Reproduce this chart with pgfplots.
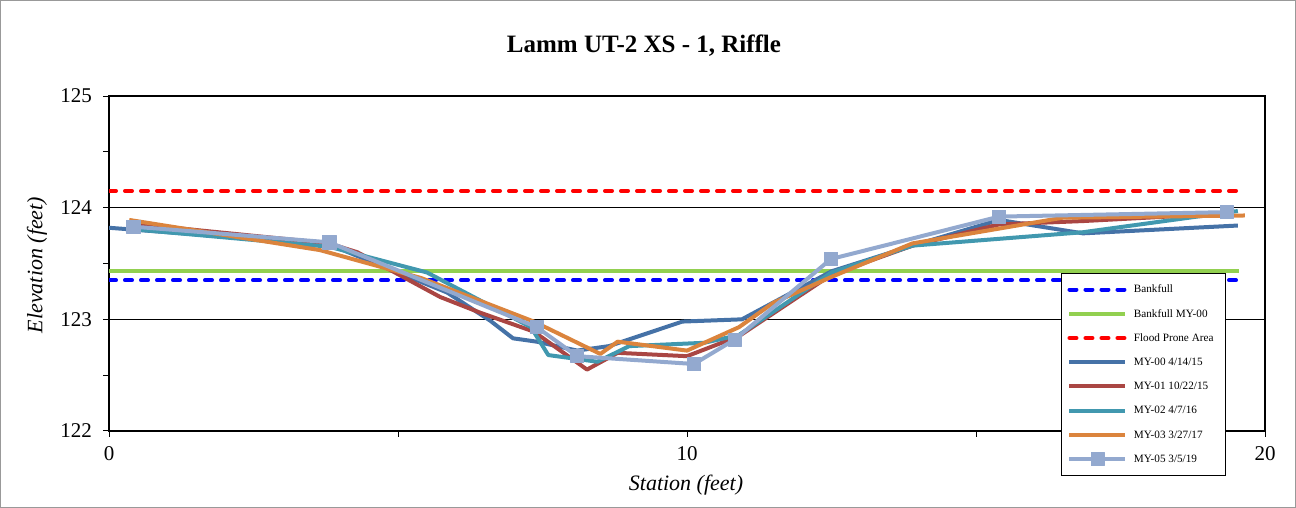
\documentclass[border=0pt]{standalone}
\usepackage{pgfplots}
\pgfplotsset{compat=1.18}
\usepackage{fontspec}
\setmainfont{Liberation Serif}

\definecolor{myzero}{HTML}{4572A7}
\definecolor{myone}{HTML}{AA4643}
\definecolor{mytwo}{HTML}{4198AF}
\definecolor{mythree}{HTML}{DB843D}
\definecolor{myfive}{HTML}{93A9CF}
\definecolor{bfgreen}{HTML}{92D050}

\begin{document}
\begin{tikzpicture}
\useasboundingbox (0,0) rectangle (648pt,254pt);
\draw[gray!80, line width=0.6pt] (0.3pt,0.3pt) rectangle (647.7pt,253.7pt);

% title and axis labels
\node[font=\fontsize{12.5}{14}\selectfont\bfseries] at (322pt,231pt) {Lamm UT-2 XS - 1, Riffle};
\node[font=\fontsize{11}{13}\selectfont\itshape, rotate=90] at (18.5pt,121.5pt) {Elevation (feet)};
\node[font=\fontsize{11}{13}\selectfont\itshape] at (343pt,11.5pt) {Station (feet)};

\begin{axis}[
    at={(54.5pt,38.5pt)}, anchor=south west,
    scale only axis,
    width=578pt, height=167.5pt,
    xmin=0, xmax=20, ymin=122, ymax=125,
    xtick={0,10,20}, ytick={122,123,124,125},
    minor x tick num=1, minor y tick num=1,
    tick pos=left, tick align=outside,
    major tick length=3pt, minor tick length=3pt,
    every tick/.style={black, line width=0.5pt},
    axis line style={line width=1pt},
    ymajorgrids,
    grid style={black, line width=0.5pt},
    ticklabel style={font=\fontsize{10.5}{12}\selectfont},
    /pgf/number format/assume math mode=true,
    yticklabel style={xshift=-2pt},
    xticklabel style={yshift=-1pt},
    legend cell align=left,
    legend style={
        at={(0.8235,0.4716)}, anchor=north west,
        draw=black, line width=0.5pt, fill=white,
        font=\fontsize{5.6}{6.5}\selectfont,
        nodes={text height=4.5pt, text depth=1.2pt, inner sep=3.2pt},
        /tikz/every even column/.append style={column sep=0pt},
    },
    legend image code/.code={
        \draw[mark repeat=2, mark phase=2, #1]
            plot coordinates {(0pt,0pt) (14pt,0pt) (28pt,0pt)};
    },
]
% horizontal reference lines
\addplot[blue, line width=2pt, line cap=round, dash pattern=on 3.5pt off 4.5pt]
    coordinates {(0,123.35) (19.55,123.35)};
\addlegendentry{Bankfull}
\addplot[bfgreen, line width=2pt]
    coordinates {(0,123.43) (19.55,123.43)};
\addlegendentry{Bankfull MY-00}
\addplot[red, line width=2pt, line cap=round, dash pattern=on 3.5pt off 4.5pt]
    coordinates {(0,124.15) (19.55,124.15)};
\addlegendentry{Flood Prone Area}

% surveys
\addplot[myzero, line width=2pt, line join=round] table {
x y
0.00 123.82
3.81 123.67
5.85 123.24
6.59 122.99
6.99 122.83
7.40 122.80
8.10 122.72
8.65 122.76
9.92 122.98
10.95 123.00
12.50 123.43
13.90 123.66
15.40 123.89
16.85 123.77
19.53 123.84
};
\addlegendentry{MY-00 4/14/15}

\addplot[myone, line width=2pt, line join=round] table {
x y
0.35 123.86
3.81 123.68
4.30 123.60
5.73 123.20
6.42 123.06
7.35 122.89
8.27 122.55
8.80 122.70
10.00 122.67
10.90 122.85
12.50 123.40
13.90 123.66
15.40 123.85
16.85 123.88
19.40 123.95
};
\addlegendentry{MY-01 10/22/15}

\addplot[mytwo, line width=2pt, line join=round] table {
x y
0.35 123.81
3.81 123.65
5.50 123.42
7.30 122.93
7.60 122.68
8.45 122.62
9.00 122.76
10.30 122.79
10.90 122.86
12.50 123.42
13.90 123.66
16.85 123.78
19.53 123.97
};
\addlegendentry{MY-02 4/7/16}

\addplot[mythree, line width=2pt, line join=round] table {
x y
0.35 123.89
3.65 123.62
5.40 123.37
7.35 122.98
8.50 122.69
8.80 122.80
10.00 122.72
10.90 122.93
11.50 123.15
12.50 123.38
13.90 123.68
16.50 123.91
19.65 123.93
};
\addlegendentry{MY-03 3/27/17}

\addplot[myfive, line width=2pt, line join=round, mark=square*, mark size=3.3pt,
    mark options={fill=myfive, draw=myfive, line width=0.3pt}] table {
x y
0.42 123.83
3.81 123.69
7.40 122.93
8.10 122.67
10.12 122.60
10.83 122.82
12.49 123.54
15.40 123.92
19.34 123.96
};
\addlegendentry{MY-05 3/5/19}
\end{axis}
\end{tikzpicture}
\end{document}
